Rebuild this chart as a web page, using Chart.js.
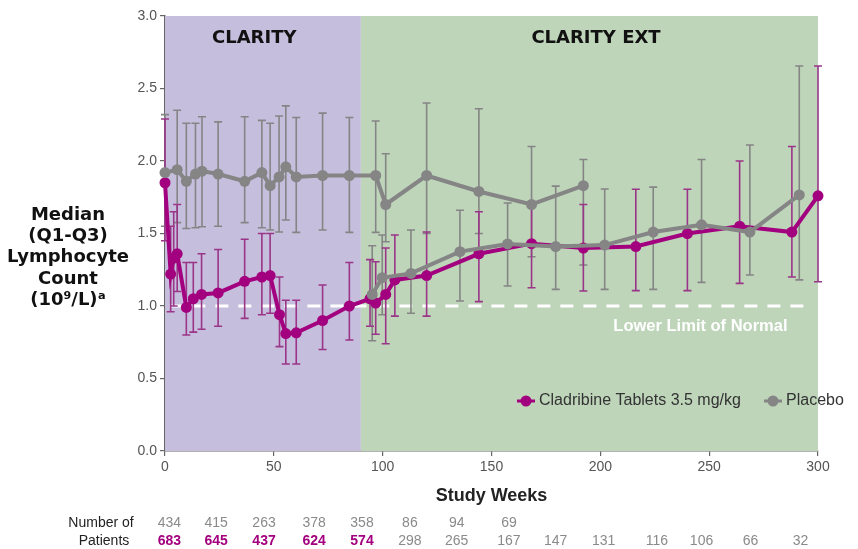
<!DOCTYPE html>
<html lang="en">
<head>
    <meta charset="UTF-8">
    <title>Lymphocyte Count</title>
    <script src="https://cdn.jsdelivr.net/npm/chart.js"></script>
    <style>
        body {
            margin: 0;
            background: #fff;
        }

        #wrap {
            width: 858px;
            height: 549px;
        }
    </style>
</head>
<body>
    <div id="wrap">
        <canvas id="chart" width="858" height="549"></canvas>
    </div>

    <script>
        // Cladribine Tablets 3.5 mg/kg (CLARITY -> CLARITY EXT)
        const cladWeeks = [0, 2.6, 4, 5.6, 9.8, 13, 16.8, 24.4, 36.6, 44.5, 48.3, 52.6, 55.5, 60.3, 72.4, 84.7, 94.2, 96.8, 101.4, 105.6, 120.2, 144.2, 168.4, 192.2, 216.3, 240, 264, 288, 300];
        const cladMedian = [1.85, 1.22, 1.33, 1.36, 0.99, 1.05, 1.08, 1.09, 1.17, 1.20, 1.21, 0.94, 0.81, 0.815, 0.90, 1.00, 1.05, 1.02, 1.08, 1.18, 1.21, 1.36, 1.43, 1.40, 1.41, 1.50, 1.55, 1.51, 1.76];
        const cladQ1 = [1.45, 0.96, 1.00, 1.10, 0.80, 0.82, 0.84, 0.86, 0.915, 0.94, 0.95, 0.72, 0.60, 0.60, 0.70, 0.766, 0.86, 0.805, 0.74, 0.93, 0.93, 1.03, 1.126, 1.103, 1.106, 1.106, 1.156, 1.20, 1.167];
        const cladQ3 = [2.29, 1.55, 1.65, 1.70, 1.30, 1.30, 1.36, 1.39, 1.46, 1.50, 1.50, 1.20, 1.04, 1.04, 1.145, 1.30, 1.32, 1.305, 1.40, 1.49, 1.51, 1.65, 1.70, 1.70, 1.805, 1.805, 2.00, 2.10, 2.655];

        // Placebo (CLARITY, continued in EXT)
        const placWeeks = [0, 5.6, 9.8, 14, 17, 24.4, 36.6, 44.5, 48.3, 52.4, 55.5, 60.3, 72.4, 84.7, 96.8, 101.4, 120.2, 144.2, 168.4, 192.2];
        const placMedian = [1.92, 1.94, 1.86, 1.91, 1.93, 1.91, 1.86, 1.92, 1.83, 1.89, 1.96, 1.89, 1.90, 1.90, 1.90, 1.70, 1.90, 1.79, 1.70, 1.83];
        const placQ1 = [1.55, 1.575, 1.535, 1.54, 1.547, 1.55, 1.575, 1.54, 1.524, 1.51, 1.593, 1.508, 1.524, 1.508, 1.508, 1.443, 1.50, 1.50, 1.34, 1.283];
        const placQ3 = [2.32, 2.35, 2.26, 2.26, 2.305, 2.27, 2.305, 2.28, 2.26, 2.31, 2.38, 2.30, 2.33, 2.30, 2.276, 2.05, 2.40, 2.36, 2.10, 2.01];

        // second grey group in CLARITY EXT
        const extWeeks = [95.2, 99.8, 113, 135.5, 157.4, 179.5, 202, 224.3, 246.5, 268.7, 291.4];
        const extMedian = [1.08, 1.195, 1.225, 1.375, 1.428, 1.41, 1.42, 1.51, 1.56, 1.51, 1.766];
        const extQ1 = [0.76, 0.94, 0.95, 1.034, 1.138, 1.115, 1.115, 1.115, 1.163, 1.214, 1.18];
        const extQ3 = [1.416, 1.49, 1.524, 1.66, 1.71, 1.827, 1.807, 1.82, 2.01, 2.11, 2.655];

        // number of patients table
        const tableWeeks = [2, 23.5, 45.5, 68.5, 90.5, 112.5, 134, 158, 179.5, 201.5, 226, 246.5, 269, 292];
        const topRow = [434, 415, 263, 378, 358, 86, 94, 69];
        const bottomRow = [683, 645, 437, 624, 574, 298, 265, 167, 147, 131, 116, 106, 66, 32];
        const purpleCount = 5;

        const yTicks = [0, 0.5, 1.0, 1.5, 2.0, 2.5, 3.0];
        const lowerLimit = 1.0;
        const clarityEnd = 90;

        const PURPLE = '#a3007f';
        const PURPLE_BAR = '#9a3588';
        const GREY = '#858585';

        const toPoints = (xs, ys) => xs.map((w, i) => ({ x: w, y: ys[i] }));

        const series = [
            { weeks: extWeeks, q1: extQ1, q3: extQ3, color: GREY },
            { weeks: placWeeks, q1: placQ1, q3: placQ3, color: GREY },
            { weeks: cladWeeks, q1: cladQ1, q3: cladQ3, color: PURPLE_BAR }
        ];

        const backdrop = {
            id: 'backdrop',
            beforeDatasetsDraw(chart) {
                const { ctx, scales: { x, y } } = chart;
                const x0 = x.getPixelForValue(0), xm = x.getPixelForValue(clarityEnd), x1 = x.getPixelForValue(300);
                const yt = y.getPixelForValue(3), yb = y.getPixelForValue(0);
                ctx.save();
                ctx.fillStyle = '#c6bedd';
                ctx.fillRect(x0, yt, xm - x0, yb - yt);
                ctx.fillStyle = '#bed5ba';
                ctx.fillRect(xm, yt, x1 - xm, yb - yt);

                ctx.fillStyle = '#111';
                ctx.font = 'bold 18px "DejaVu Sans"';
                ctx.textAlign = 'center';
                ctx.textBaseline = 'middle';
                ctx.fillText('CLARITY', x.getPixelForValue(41), 38);
                ctx.fillText('CLARITY EXT', x.getPixelForValue(198), 38);

                // lower limit of normal
                const yl = y.getPixelForValue(lowerLimit);
                ctx.strokeStyle = '#fff';
                ctx.lineWidth = 3;
                ctx.setLineDash([13, 10]);
                ctx.beginPath();
                ctx.moveTo(x.getPixelForValue(2), yl);
                ctx.lineTo(x.getPixelForValue(296), yl);
                ctx.stroke();
                ctx.setLineDash([]);
                ctx.fillStyle = '#fff';
                ctx.font = 'bold 16.5px "Liberation Sans"';
                ctx.fillText('Lower Limit of Normal', x.getPixelForValue(246), yl + 20);

                // Q1-Q3 bars
                ctx.lineWidth = 1.6;
                series.forEach(s => {
                    ctx.strokeStyle = s.color;
                    s.weeks.forEach((w, i) => {
                        const px = x.getPixelForValue(w);
                        const lo = y.getPixelForValue(s.q1[i]);
                        const hi = y.getPixelForValue(s.q3[i]);
                        ctx.beginPath();
                        ctx.moveTo(px, lo);
                        ctx.lineTo(px, hi);
                        ctx.moveTo(px - 4, lo);
                        ctx.lineTo(px + 4, lo);
                        ctx.moveTo(px - 4, hi);
                        ctx.lineTo(px + 4, hi);
                        ctx.stroke();
                    });
                });
                ctx.restore();
            },
            afterDraw(chart) {
                const { ctx, scales: { x } } = chart;
                ctx.save();
                ctx.textBaseline = 'middle';

                // y title
                ctx.fillStyle = '#111';
                ctx.textAlign = 'center';
                ctx.font = 'bold 18px "DejaVu Sans"';
                ['Median', '(Q1-Q3)', 'Lymphocyte', 'Count', '(10\u2079/L)\u1d43'].forEach((t, i) => {
                    ctx.fillText(t, 68, 215 + i * 21.3);
                });

                // x title
                ctx.font = 'bold 18px "Liberation Sans"';
                ctx.fillStyle = '#222';
                ctx.fillText('Study Weeks', x.getPixelForValue(150), 496);

                // patients table
                ctx.font = '14px "Liberation Sans Narrow", "Liberation Sans"';
                ctx.fillStyle = '#222';
                ctx.fillText('Number of', 101, 523);
                ctx.fillText('Patients', 104, 541);
                topRow.forEach((n, i) => {
                    ctx.fillStyle = '#8a8a8a';
                    ctx.fillText(String(n), x.getPixelForValue(tableWeeks[i]), 523);
                });
                bottomRow.forEach((n, i) => {
                    const purple = i < purpleCount;
                    ctx.font = (purple ? 'bold ' : '') + '14px "Liberation Sans Narrow", "Liberation Sans"';
                    ctx.fillStyle = purple ? PURPLE : '#8a8a8a';
                    ctx.fillText(String(n), x.getPixelForValue(tableWeeks[i]), 541);
                });

                // legend
                const items = [
                    { label: 'Cladribine Tablets 3.5 mg/kg', color: PURPLE, x: 517 },
                    { label: 'Placebo', color: GREY, x: 764 }
                ];
                ctx.font = '16px "Liberation Sans"';
                ctx.textAlign = 'left';
                items.forEach(it => {
                    ctx.strokeStyle = it.color;
                    ctx.fillStyle = it.color;
                    ctx.lineWidth = 3;
                    ctx.beginPath();
                    ctx.moveTo(it.x, 401);
                    ctx.lineTo(it.x + 18, 401);
                    ctx.stroke();
                    ctx.beginPath();
                    ctx.arc(it.x + 9, 401, 5.5, 0, Math.PI * 2);
                    ctx.fill();
                    ctx.fillStyle = '#333';
                    ctx.fillText(it.label, it.x + 22, 401);
                });
                ctx.restore();
            }
        };

        const lineStyle = color => ({
            borderColor: color,
            backgroundColor: color,
            pointBackgroundColor: color,
            pointBorderColor: color,
            borderWidth: 4,
            pointRadius: 5.5,
            pointBorderWidth: 0,
            pointHoverRadius: 5.5,
            tension: 0,
            clip: false,
            fill: false
        });

        const chart = new Chart(document.getElementById('chart'), {
            type: 'line',
            data: {
                datasets: [
                    Object.assign({ label: 'Placebo EXT', data: toPoints(extWeeks, extMedian) }, lineStyle(GREY)),
                    Object.assign({ label: 'Placebo', data: toPoints(placWeeks, placMedian) }, lineStyle(GREY)),
                    Object.assign({ label: 'Cladribine Tablets 3.5 mg/kg', data: toPoints(cladWeeks, cladMedian) }, lineStyle(PURPLE))
                ]
            },
            options: {
                responsive: false,
                animation: false,
                layout: { padding: { top: 16, right: 40, left: 0, bottom: 0 } },
                plugins: {
                    legend: { display: false },
                    tooltip: { enabled: false }
                },
                scales: {
                    x: {
                        type: 'linear',
                        min: 0,
                        max: 300,
                        afterFit: s => { s.height = 98; },
                        ticks: {
                            stepSize: 50,
                            color: '#555',
                            padding: 3,
                            font: { family: 'Liberation Sans', size: 14 }
                        },
                        grid: { drawOnChartArea: false, tickLength: 5, color: '#666', lineWidth: 1.2 },
                        border: { color: '#666', width: 1.5 }
                    },
                    y: {
                        min: 0,
                        max: 3,
                        afterFit: s => { s.width = 165; },
                        afterBuildTicks: s => { s.ticks = yTicks.map(v => ({ value: v })); },
                        ticks: {
                            color: '#555',
                            padding: 3,
                            callback: v => Number(v).toFixed(1),
                            font: { family: 'Liberation Sans', size: 14 }
                        },
                        grid: { drawOnChartArea: false, tickLength: 5, color: '#666', lineWidth: 1.2 },
                        border: { color: '#666', width: 1.5 }
                    }
                }
            },
            plugins: [backdrop]
        });
    </script>
</body>
</html>
